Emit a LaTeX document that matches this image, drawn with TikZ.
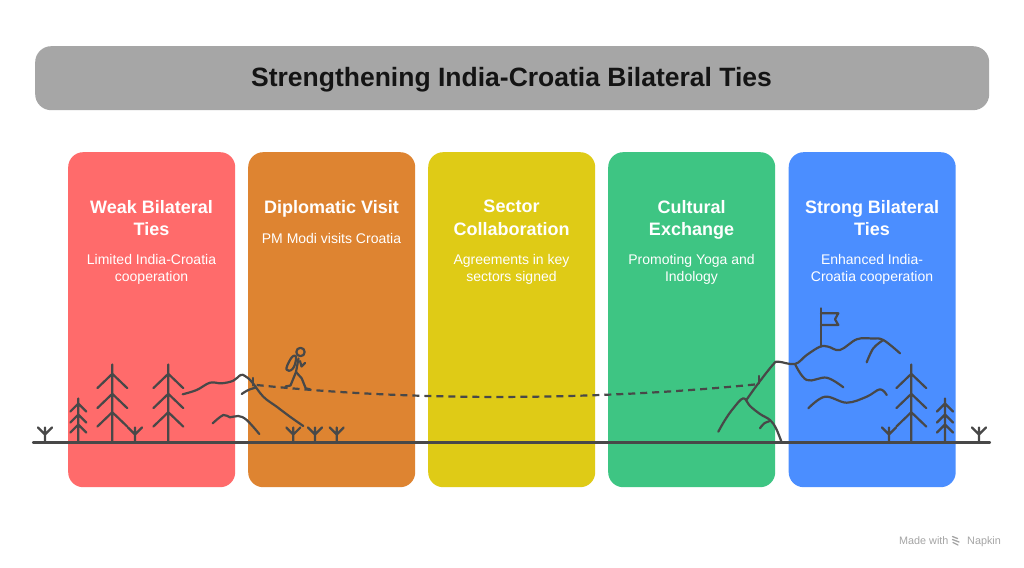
\documentclass[tikz,border=0pt]{standalone}
\usepackage{fontspec}
\setmainfont{Liberation Sans}
\definecolor{cred}{RGB}{255,107,107}
\definecolor{corange}{RGB}{222,132,49}
\definecolor{cyellow}{RGB}{223,203,22}
\definecolor{cgreen}{RGB}{62,197,131}
\definecolor{cblue}{RGB}{75,142,255}
\definecolor{tbar}{RGB}{166,166,166}
\definecolor{ink}{RGB}{72,72,72}
\definecolor{napgray}{RGB}{165,165,165}
\definecolor{ttext}{RGB}{20,20,20}
\begin{document}
\begin{tikzpicture}[x=1pt,y=-1pt,
  inkline/.style={draw=ink,line width=2.2pt,line cap=round,line join=round},
  cardbox/.style={rounded corners=15pt,minimum width=167pt,minimum height=335pt,inner sep=0pt,anchor=north west},
  ctitle/.style={anchor=north,inner sep=0pt,align=center,text=white,font=\fontsize{18}{22.3}\selectfont\bfseries},
  csub/.style={anchor=north,inner sep=0pt,align=center,text=white,font=\fontsize{14}{17}\selectfont},
  tuft/.pic={\draw[inkline] (0,0)--(0,-15) (-7,-15)--(0,-8)--(7,-15);},
  bigtree/.pic={\draw[inkline] (0,0)--(0,-78) (-15,-54.3)--(0,-68.7)--(15,-54.3) (-15,-34.3)--(0,-48.7)--(15,-34.3) (-15,-15.9)--(0,-30.3)--(15,-15.9);},
  smalltree/.pic={\draw[inkline] (0,0)--(0,-44) (-8,-31)--(0,-39)--(8,-31) (-8,-20)--(0,-28)--(8,-20) (-8,-10)--(0,-18)--(8,-10);}
]
\useasboundingbox[fill=white] (0,0) rectangle (1024,567);

% title bar
\node[fill=tbar,rounded corners=16pt,minimum width=954pt,minimum height=64pt,inner sep=0pt,anchor=north west] (bar) at (35,46) {};
\node[anchor=base,inner sep=0pt,text=ttext,font=\fontsize{26.5}{30}\selectfont\bfseries] (title) at (511.5,86.7) {Strengthening India-Croatia Bilateral Ties};

% cards
\node[cardbox,fill=cred] (c1) at (68,152) {};
\node[cardbox,fill=corange] (c2) at (248,152) {};
\node[cardbox,fill=cyellow] (c3) at (428,152) {};
\node[cardbox,fill=cgreen] (c4) at (608,152) {};
\node[cardbox,fill=cblue] (c5) at (788.5,152) {};

\node[ctitle] (t1) at (151.5,200) {Weak Bilateral\\Ties};
\node[csub] (s1) at (151.5,254.3) {Limited India-Croatia\\cooperation};
\node[ctitle] (t2) at (331.5,200) {Diplomatic Visit};
\node[csub] (s2) at (331.5,233.3) {PM Modi visits Croatia};
\node[ctitle] (t3) at (511.5,200) {Sector\\Collaboration};
\node[csub] (s3) at (511.5,254.3) {Agreements in key\\sectors signed};
\node[ctitle] (t4) at (691.5,200) {Cultural\\Exchange};
\node[csub] (s4) at (691.5,254.3) {Promoting Yoga and\\Indology};
\node[ctitle] (t5) at (872,200) {Strong Bilateral\\Ties};
\node[csub] (s5) at (872,254.3) {Enhanced India-\\Croatia cooperation};

% ground
\coordinate (gl) at (33,442.5);
\coordinate (gr) at (990,442.5);
\draw[inkline] (gl) -- (gr);

% left vegetation
\pic at (45,442.5) {tuft};
\pic at (78.3,442.5) {smalltree};
\pic at (112.3,442.5) {bigtree};
\pic at (135,442.5) {tuft};
\pic at (168.3,442.5) {bigtree};
\pic at (293.3,442.5) {tuft};
\pic at (315,442.5) {tuft};
\pic at (336.7,442.5) {tuft};

% left hills
\draw[inkline] plot[smooth,tension=0.6] coordinates {(182.7,394.3) (196.7,390) (210,382.7) (221.7,383.3) (233.3,380.7) (240.7,375) (245,376) (251.7,381.7) (263.3,396.7) (276.7,406.7) (290,416.7) (303.3,426)};
\draw[inkline] plot[smooth,tension=0.6] coordinates {(241.7,394) (248.3,390) (256,387.5)};
\draw[inkline] plot[smooth,tension=0.6] coordinates {(212.7,423.3) (223.3,415) (230,417.3) (238.3,416) (246.7,420) (259.3,434)};
\draw[inkline] (253.3,378) -- (253.3,385.5);

% dashed path
\coordinate (ds) at (256.7,385);
\coordinate (de) at (756.7,384.3);
\draw[inkline,line cap=butt,dash pattern=on 7pt off 5pt] (ds) .. controls (420,402) and (600,400) .. (de);

% hiker
\draw[inkline] (300.5,352) circle (4.2);
\draw[inkline] plot[smooth cycle,tension=0.8] coordinates {(286.5,369.5) (290,360) (294.5,355.5) (296,359.5) (292.5,369)};
\draw[inkline] (298.5,358.5) -- (296,372);
\draw[inkline] (300,361) -- (301.5,366.5) -- (305,363);
\draw[inkline] (296,372) -- (290.5,385.5) -- (285.5,386.5);
\draw[inkline] (296,372) -- (301.7,378.3) -- (305.7,388.3) -- (310,389.3);

% right mountain
\draw[inkline] plot[smooth,tension=0.6] coordinates {(718.3,431.7) (725,420) (733.3,408.3) (743.3,398.3) (750,406) (760,414) (770,420) (776,428.3) (781.7,442.5)};
\draw[inkline] plot[smooth,tension=0.6] coordinates {(760,428.3) (764,423.5) (770,421)};
\draw[inkline] plot[smooth,tension=0.6] coordinates {(746,400.5) (758.3,383.3) (773.3,364.3) (778.3,361.7) (795,364) (806.7,355) (820,346.7) (828.3,346.7) (840,350) (856.7,339.3) (872,338.5) (883.3,340) (900,353.3)};
\draw[inkline] plot[smooth,tension=0.6] coordinates {(795,364) (806.7,380) (826.7,377.7) (843.3,387.3)};
\draw[inkline] plot[smooth,tension=0.6] coordinates {(866.7,362.3) (873.3,348.3) (883.3,340)};
\draw[inkline] plot[smooth,tension=0.6] coordinates {(808.3,408.3) (825,396.7) (846.7,402.7) (866.7,396.7) (880,389.3) (886.7,395)};
\draw[inkline] (759.3,376) -- (759.3,383.3);
% flag
\draw[inkline] (821,308.3) -- (821,346.7);
\draw[inkline] (821,313.3) -- (838.3,313.3) -- (835,319.2) -- (838.3,325) -- (821,325);

% right vegetation
\pic at (889,442.5) {tuft};
\pic at (911.3,442.5) {bigtree};
\pic at (945,442.5) {smalltree};
\pic at (979,442.5) {tuft};

% watermark
\node[anchor=base west,inner sep=0pt,text=napgray,font=\fontsize{10.8}{12}\selectfont] (mw) at (899,544.3) {Made with};
\node[anchor=base west,inner sep=0pt,text=napgray,font=\fontsize{10.8}{12}\selectfont] (nap) at (967,544.3) {Napkin};
\draw[napgray,line width=1.3pt,line cap=round] (952.5,536.5) -- (957.5,538.5) (952.5,539.5) -- (959,542) (953,542.5) -- (958,545);
\end{tikzpicture}
\end{document}
